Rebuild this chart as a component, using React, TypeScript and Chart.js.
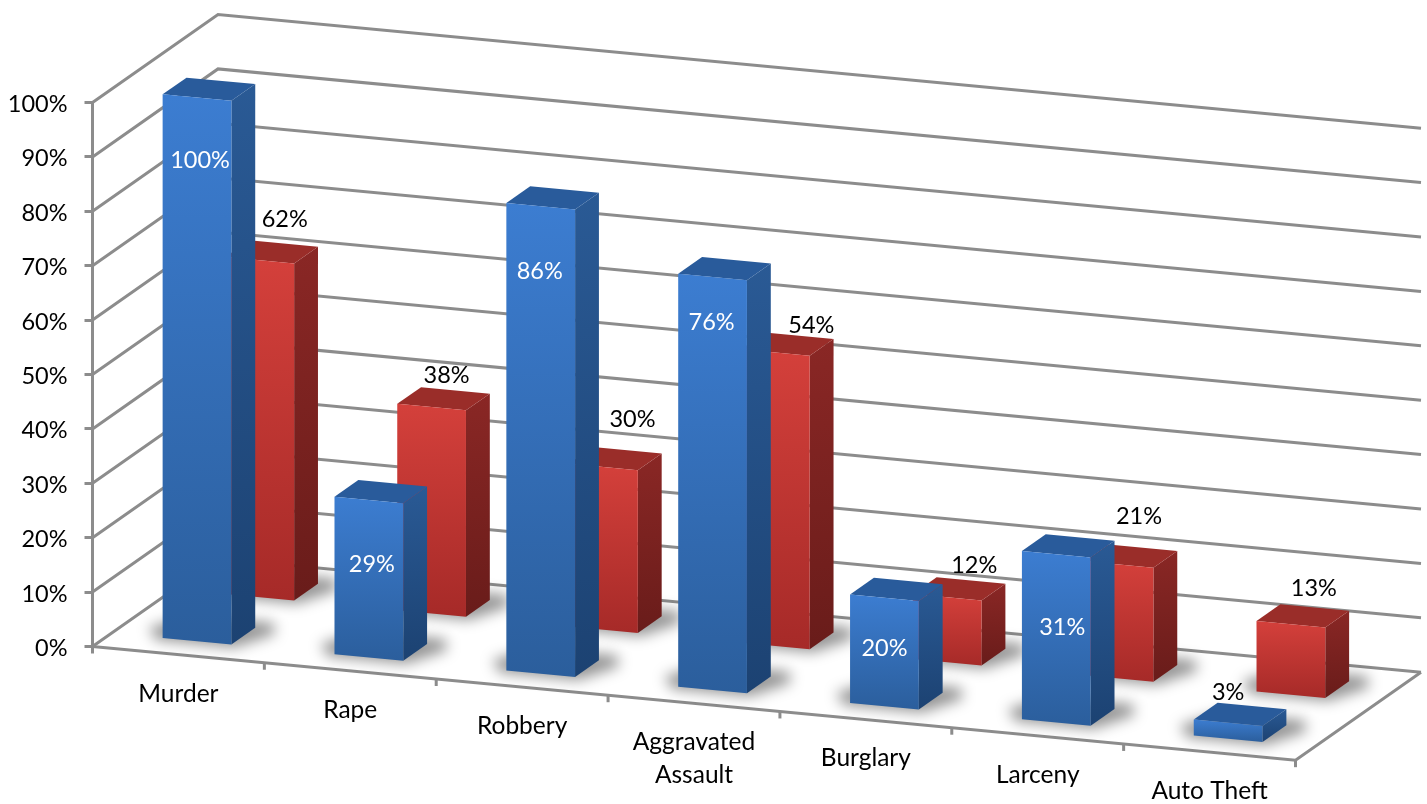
import React, { useEffect, useRef } from "react";
import { Chart, registerables } from "chart.js";

Chart.register(...registerables);

const categories = ["Murder", "Rape", "Robbery", ["Aggravated", "Assault"], "Burglary", "Larceny", "Auto Theft"];
const frontRow = [100, 29, 86, 76, 20, 31, 3];
const backRow = [62, 38, 30, 54, 12, 21, 13];

// Hand-placed data label offsets from the centre of each bar's top front edge.
const frontLabelShift = [[3, 63], [3, 64], [-1, 65], [-1, 46], [0, 51], [6, 73], [0, -30]];
const backLabelShift = [[25, -41], [15, -32], [29, -47], [36, -27], [27, -32], [20, -48], [23, -36]];

const FONT = "Lato, 'Open Sans', sans-serif";
const GRID = "#8c8c8c";
const GRID_WIDTH = 3;

// Oblique projection: a scale position (x, y) at floor depth t (0 front, 1 back wall).
const DEPTH_X = 125.5;
const DEPTH_Y = -88;
const SHEAR = 0.0945;
const BAR_DEPTH = 0.19;
const ROW_START = [0.148, 0.648];
const BASE_DROP = 1.2;

const palettes = [
  { top: "#295b9b", sideA: "#2a5a95", sideB: "#1c4272", faceA: "#3c7dd1", faceB: "#2b5e9c" },
  { top: "#9a2d29", sideA: "#8a2725", sideB: "#691c1a", faceA: "#d4403b", faceB: "#a62a28" },
];

function project(area: any, x: number, y: number, t: number): [number, number] {
  return [x + DEPTH_X * t, y + SHEAR * (x - area.left) + DEPTH_Y * t];
}

function poly(ctx: CanvasRenderingContext2D, pts: number[][]) {
  ctx.beginPath();
  pts.forEach((p, i) => (i ? ctx.lineTo(p[0], p[1]) : ctx.moveTo(p[0], p[1])));
  ctx.closePath();
}

function drawPrism(ctx: CanvasRenderingContext2D, area: any, el: any, t: number, pal: any) {
  const xl = el.x - el.width / 2;
  const xr = el.x + el.width / 2;
  const t2 = t + BAR_DEPTH;
  const base = el.base + BASE_DROP;
  const flb = project(area, xl, base, t);
  const frb = project(area, xr, base, t);
  const brb = project(area, xr, base, t2);
  const blb = project(area, xl, base, t2);
  const flt = project(area, xl, el.y, t);
  const frt = project(area, xr, el.y, t);
  const brt = project(area, xr, el.y, t2);
  const blt = project(area, xl, el.y, t2);

  // Soft contact shadow spreading sideways across the floor
  ctx.save();
  ctx.filter = "blur(7px)";
  ctx.fillStyle = "rgba(0,0,0,0.42)";
  poly(ctx, [
    [flb[0] - 14, flb[1] - 10],
    [flb[0] - 6, flb[1] + 2],
    [frb[0] + 3, frb[1] + 3],
    [brb[0] + 20, brb[1] + 6],
    [brb[0] + 18, brb[1] - 5],
    [blb[0], blb[1] - 5],
  ]);
  ctx.fill();
  ctx.restore();

  const side = ctx.createLinearGradient(0, brt[1], 0, frb[1]);
  side.addColorStop(0, pal.sideA);
  side.addColorStop(1, pal.sideB);
  ctx.fillStyle = side;
  poly(ctx, [frt, brt, brb, frb]);
  ctx.fill();

  ctx.fillStyle = pal.top;
  poly(ctx, [flt, frt, brt, blt]);
  ctx.fill();

  const face = ctx.createLinearGradient(0, flt[1], 0, frb[1]);
  face.addColorStop(0, pal.faceA);
  face.addColorStop(1, pal.faceB);
  ctx.fillStyle = face;
  poly(ctx, [flt, frt, frb, flb]);
  ctx.fill();
}

const perspectiveBars = {
  id: "perspectiveBars",
  beforeDatasetDraw() {
    return false; // bars are drawn as prisms below
  },
  beforeDatasetsDraw(chart: any) {
    const { ctx, chartArea: a, scales } = chart;
    const yScale = scales.y;
    const xScale = scales.x;

    ctx.save();
    ctx.strokeStyle = GRID;
    ctx.lineWidth = GRID_WIDTH;
    ctx.lineJoin = "miter";

    // Walls: one bent line per value tick
    yScale.ticks.forEach((tick: any) => {
      const y = yScale.getPixelForValue(tick.value);
      const b0 = project(a, a.left, y, 1);
      const b1 = project(a, a.right, y, 1);
      ctx.beginPath();
      ctx.moveTo(a.left, y);
      ctx.lineTo(b0[0], b0[1]);
      ctx.lineTo(b1[0], b1[1]);
      ctx.stroke();
    });

    // Floor edges
    const y0 = yScale.getPixelForValue(0);
    const fr = project(a, a.right, y0, 0);
    const br = project(a, a.right, y0, 1);
    ctx.beginPath();
    ctx.moveTo(a.left, y0);
    ctx.lineTo(fr[0], fr[1]);
    ctx.lineTo(br[0], br[1]);
    ctx.stroke();

    // Category separators hanging under the front edge
    const step = (a.right - a.left) / categories.length;
    for (let i = 0; i <= categories.length; i++) {
      const p = project(a, a.left + step * i, y0, 0);
      ctx.beginPath();
      ctx.moveTo(p[0], p[1]);
      ctx.lineTo(p[0], p[1] + 7);
      ctx.stroke();
    }

    // Category labels follow the sloping front edge
    ctx.fillStyle = "#000";
    ctx.font = `24.5px ${FONT}`;
    ctx.textAlign = "center";
    ctx.textBaseline = "middle";
    categories.forEach((label, i) => {
      const p = project(a, xScale.getPixelForValue(i), y0, 0);
      const lines = Array.isArray(label) ? label : [label];
      lines.forEach((line, k) => ctx.fillText(line, p[0], p[1] + 39 + k * 33));
    });
    ctx.restore();

    // Back row first so the front row overlaps it
    [1, 0].forEach((d) => {
      const meta = chart.getDatasetMeta(d);
      meta.data.forEach((el: any) => {
        drawPrism(ctx, a, el, ROW_START[d], palettes[d]);
      });
    });
  },
  afterDatasetsDraw(chart: any) {
    const { ctx, chartArea: a } = chart;
    ctx.save();
    ctx.font = `23.5px ${FONT}`;
    ctx.textAlign = "center";
    ctx.textBaseline = "middle";
    [1, 0].forEach((d) => {
      const values = chart.data.datasets[d].data;
      const shifts = d === 0 ? frontLabelShift : backLabelShift;
      chart.getDatasetMeta(d).data.forEach((el: any, i: number) => {
        const p = project(a, el.x, el.y, ROW_START[d]);
        const [dx, dy] = shifts[i];
        ctx.fillStyle = d === 0 && dy > 0 ? "#ffffff" : "#000000";
        ctx.fillText(`${values[i]}%`, p[0] + dx, p[1] + dy);
      });
    });
    ctx.restore();
  },
};

export default function App() {
  const ref = useRef<HTMLCanvasElement>(null);

  useEffect(() => {
    const chart = new Chart(ref.current as HTMLCanvasElement, {
      type: "bar",
      data: {
        labels: categories as any,
        datasets: [
          { label: "Front", data: frontRow, backgroundColor: "#3c7dd1", grouped: false, barPercentage: 0.4, categoryPercentage: 1 } as any,
          { label: "Back", data: backRow, backgroundColor: "#d4403b", grouped: false, barPercentage: 0.4, categoryPercentage: 1 } as any,
        ],
      },
      options: {
        responsive: false,
        animation: false,
        layout: { padding: { top: 102.5, right: 131.5, bottom: 157.5, left: 0 } },
        plugins: { legend: { display: false }, title: { display: false }, tooltip: { enabled: false } },
        scales: {
          x: { display: false },
          y: {
            min: 0,
            max: 100,
            afterFit(scale: any) {
              scale.width = 92.5;
            },
            border: { display: true, color: GRID, width: GRID_WIDTH },
            grid: { drawOnChartArea: false, drawTicks: true, tickLength: 8, color: GRID, lineWidth: GRID_WIDTH },
            ticks: {
              stepSize: 10,
              padding: 17,
              labelOffset: 2,
              color: "#000",
              font: { family: FONT, size: 23.5 },
              callback: (v: any) => `${v}%`,
            },
          },
        },
      },
      plugins: [perspectiveBars],
    } as any);
    return () => chart.destroy();
  }, []);

  return (
    <canvas
      ref={ref}
      width={1427}
      height={804}
      style={{ position: "fixed", left: 0, top: 0, width: 1427, height: 804, background: "#fff" }}
    />
  );
}
